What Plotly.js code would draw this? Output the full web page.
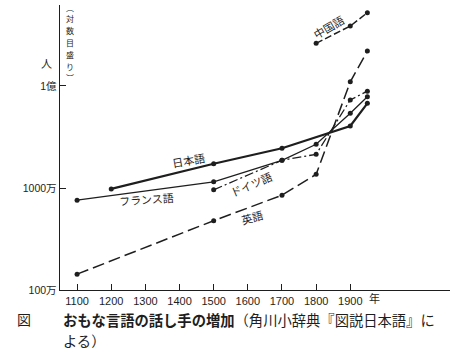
<!DOCTYPE html>
<html>
<head>
<meta charset="utf-8">
<script src="https://cdn.plot.ly/plotly-3.0.1.min.js"></script>
<style>html,body{margin:0;padding:0;background:#fff;}#chart{width:450px;height:360px;}</style>
</head>
<body>
<div id="chart"></div>
<script>
// ---- data (speakers, persons) ----
const jpYears = [1200, 1500, 1700, 1900, 1950];
const jpVals  = [9.8e6, 17.3e6, 24.5e6, 40.5e6, 67.6e6];
const frYears = [1100, 1500, 1700, 1800, 1900, 1950];
const frVals  = [7.6e6, 11.5e6, 18.7e6, 26.8e6, 54e6, 78.5e6];
const deYears = [1500, 1700, 1800, 1900, 1950];
const deVals  = [9.6e6, 18.7e6, 21.4e6, 73e6, 89e6];
const enYears = [1100, 1500, 1700, 1800, 1900, 1950];
const enVals  = [1.43e6, 4.78e6, 8.5e6, 13.6e6, 110e6, 220e6];
const zhYears = [1800, 1900, 1950];
const zhVals  = [262e6, 387e6, 523e6];

const xTickVals = [1100, 1200, 1300, 1400, 1500, 1600, 1700, 1800, 1900];
const yTickVals = [1e6, 1e7, 1e8];
const yTickText = ['100万', '1000万', '1億'];
const yTitleChars = ['︵', '対', '数', '目', '盛', 'り', '︶'];

const INK = '#1e1e1e';
const CJK = '"Noto Sans CJK JP", "Liberation Sans", sans-serif';
const NUM = '"Liberation Sans", "Noto Sans CJK JP", sans-serif';

function line(x, y, width, dash) {
  return {
    x: x, y: y, type: 'scatter', mode: 'lines+markers',
    line: {color: INK, width: width, dash: dash},
    marker: {color: INK, size: 5},
    hoverinfo: 'skip'
  };
}

const traces = [
  line(enYears, enVals, 1.5, '12px,5px'),
  line(zhYears, zhVals, 1.5, '7px,3px'),
  line(deYears, deVals, 1.3, '9px,3px,2px,3px'),
  line(frYears, frVals, 1.3, 'solid'),
  line(jpYears, jpVals, 2.2, 'solid')
];

// plot area in pixels: x 60..450, y 5..290
function px(x) { return (x - 60) / 390; }
function py(y) { return (290 - y) / 285; }

function ann(text, x, y, opts) {
  return Object.assign({
    text: text, xref: 'paper', yref: 'paper', x: px(x), y: py(y),
    showarrow: false, xanchor: 'center', yanchor: 'middle',
    font: {family: CJK, size: 11, color: INK}
  }, opts || {});
}

const capFont = {family: CJK, size: 14, color: INK};
const annotations = [
  ann('日本語', 188, 160, {textangle: -10}),
  ann('フランス語', 146, 199, {textangle: -4}),
  ann('ドイツ語', 251, 184, {textangle: -23}),
  ann('英語', 252, 217, {textangle: -15}),
  ann('中国語', 328, 27, {textangle: -30}),
  ann('人', 46, 63),
  ann('年', 374, 298),
  ann('図', 24, 319, {font: capFont, borderpad: 0}),
  ann('<b>おもな言語の話し手の増加</b>（角川小辞典『図説日本語』に', 62, 319,
      {xanchor: 'left', font: {family: CJK, size: 14.3, color: INK}, borderpad: 0}),
  ann('よる）', 62, 340, {xanchor: 'left', font: {family: CJK, size: 14.3, color: INK}, borderpad: 0})
];
yTitleChars.forEach(function (c, i) {
  annotations.push(ann(c, 70, 7 + i * 11.8,
    {font: {family: CJK, size: 8, color: INK}, borderpad: 0}));
});

const layout = {
  width: 450, height: 360,
  margin: {l: 60, r: 0, t: 5, b: 70, pad: 0},
  paper_bgcolor: '#fff', plot_bgcolor: '#fff',
  showlegend: false,
  xaxis: {
    range: [1050, 2192], tickvals: xTickVals, ticks: 'inside', ticklen: 6,
    tickcolor: INK, tickwidth: 1, showline: true, linecolor: INK, linewidth: 1.3,
    showgrid: false, zeroline: false,
    tickfont: {family: NUM, size: 11, color: INK}
  },
  yaxis: {
    type: 'log', range: [6, 8.794], tickvals: yTickVals, ticktext: yTickText,
    ticks: 'inside', ticklen: 6, tickcolor: INK, tickwidth: 1,
    showline: true, linecolor: INK, linewidth: 1.3, showgrid: false, zeroline: false,
    tickfont: {family: NUM, size: 10.5, color: INK}
  },
  annotations: annotations
};

Plotly.newPlot('chart', traces, layout, {staticPlot: true, displayModeBar: false});
</script>
</body>
</html>
